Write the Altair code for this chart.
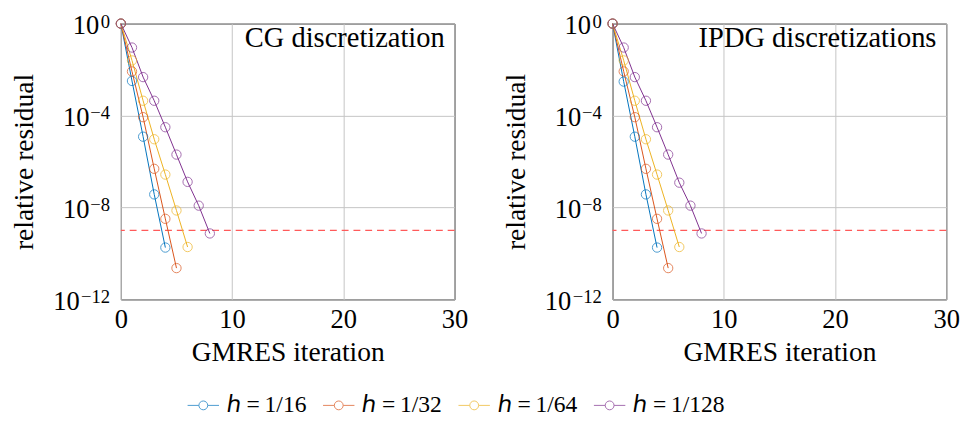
import altair as alt
import pandas as pd

FONT = "Liberation Serif"

series_names = ["ℎ\u2009=\u20091/16", "ℎ\u2009=\u20091/32", "ℎ\u2009=\u20091/64", "ℎ\u2009=\u20091/128"]
colors = ["#0072BD", "#D95319", "#EDB120", "#7E2F8E"]

# CG discretization
cg_16 = [1, 3.2e-3, 1.2e-5, 3.7e-8, 1.8e-10]
cg_32 = [1, 8.3e-3, 8.5e-5, 4.8e-7, 3.2e-9, 2.3e-11]
cg_64 = [1, 2.5e-2, 4.4e-4, 9.3e-6, 2.7e-7, 7.4e-9, 1.9e-10]
cg_128 = [1, 9.1e-2, 4.7e-3, 4.4e-4, 3.1e-5, 2.0e-6, 1.3e-7, 1.2e-8, 7.4e-10]

# IPDG discretizations
ip_16 = [1, 3.0e-3, 1.2e-5, 3.7e-8, 1.8e-10]
ip_32 = [1, 8.3e-3, 8.5e-5, 4.8e-7, 3.2e-9, 2.3e-11]
ip_64 = [1, 2.5e-2, 4.4e-4, 9.3e-6, 2.7e-7, 7.4e-9, 1.9e-10]
ip_128 = [1, 9.1e-2, 4.7e-3, 4.4e-4, 3.1e-5, 2.0e-6, 1.2e-7, 1.2e-8, 7.4e-10]

tolerance = [1e-9]

xtick_vals = [0, 10, 20, 30]
ytick_vals = [1, 1e-4, 1e-8, 1e-12]
ytick_base = ["10", "10", "10", "10"]
ytick_sup = ["0", "−4", "−8", "−12"]

panel_titles = ["CG discretization", "IPDG discretizations"]

W, H = 340, 281


def make_df(series_lists):
    rows = []
    for name, vals in zip(series_names, series_lists):
        for i, v in enumerate(vals):
            rows.append({"iter": i, "res": v, "series": name})
    return pd.DataFrame(rows)


tick_df = pd.DataFrame({"val": ytick_vals, "base": ytick_base, "sup": ytick_sup})

legend_path = ("M-1.6,0 L-0.45,0 M0.45,0 L1.6,0 "
               "M-0.45,0 A0.45,0.45 0 1 1 0.45,0 A0.45,0.45 0 1 1 -0.45,0")

yscale = alt.Scale(type="log", domain=[1e-12, 1], nice=False)


def panel(series_lists, title_text):
    df = make_df(series_lists)
    base = alt.Chart(df)
    x = alt.X("iter:Q", scale=alt.Scale(domain=[0, 30], nice=False),
              axis=alt.Axis(values=xtick_vals, title="GMRES iteration", labelFlush=False))
    y = alt.Y("res:Q", scale=yscale,
              axis=alt.Axis(values=ytick_vals, labels=False,
                            title="relative residual", titlePadding=84))
    color = alt.Color("series:N", scale=alt.Scale(domain=series_names, range=colors),
                      sort=series_names,
                      legend=alt.Legend(title=None, orient="none", direction="horizontal",
                                        legendX=72, legendY=377,
                                        symbolType=legend_path, symbolSize=400,
                                        symbolStrokeWidth=1, symbolFillColor="transparent",
                                        labelFont=FONT, labelFontSize=24,
                                        labelColor="black",
                                        columnPadding=15, labelOffset=12))
    lines = base.mark_line(strokeWidth=1).encode(x=x, y=y, color=color)
    pts = base.mark_point(filled=False, size=90, strokeWidth=1).encode(x=x, y=y, color=color)
    tol = alt.Chart(pd.DataFrame({"tol": tolerance})).mark_rule(
        color="#ff5a5a", strokeDash=[7, 5], strokeWidth=1.3).encode(y=alt.Y("tol:Q", scale=yscale))
    txt = alt.Chart(pd.DataFrame({"t": [title_text]})).mark_text(
        align="right", baseline="alphabetic", font=FONT, fontSize=29, color="black"
    ).encode(text="t:N", x=alt.value(W - 10), y=alt.value(24))
    tk = alt.Chart(tick_df)
    sup = tk.mark_text(align="right", baseline="middle", font=FONT, fontSize=19,
                       color="black", dy=-2).encode(
        text="sup:N", x=alt.value(-11), y=alt.Y("val:Q", scale=yscale))
    ten = tk.transform_calculate(bx="-12 - length(datum.sup) * 10").mark_text(
        align="right", baseline="middle", font=FONT, fontSize=27, color="black", dy=3
    ).encode(text="base:N", x=alt.X("bx:Q", scale=None), y=alt.Y("val:Q", scale=yscale))
    return alt.layer(tol, lines, pts, txt, sup, ten).properties(width=W, height=H)


chart = alt.hconcat(
    panel([cg_16, cg_32, cg_64, cg_128], panel_titles[0]),
    panel([ip_16, ip_32, ip_64, ip_128], panel_titles[1]),
    spacing=34,
).resolve_scale(color="shared").properties(
    padding={"left": 2, "top": 0, "right": 0, "bottom": 0}
).configure_view(
    stroke="black", strokeWidth=1
).configure_axis(
    grid=True, gridColor="#c4c4c4", gridWidth=1, domain=False, ticks=False,
    labelFont=FONT, labelFontSize=27, labelColor="black", labelPadding=8,
    titleFont=FONT, titleFontSize=28, titleFontWeight="normal", titleColor="black",
).configure_axisX(titlePadding=6).configure_legend(labelFont=FONT)

chart.save("out.html", embed_options={"renderer": "svg", "actions": False})
